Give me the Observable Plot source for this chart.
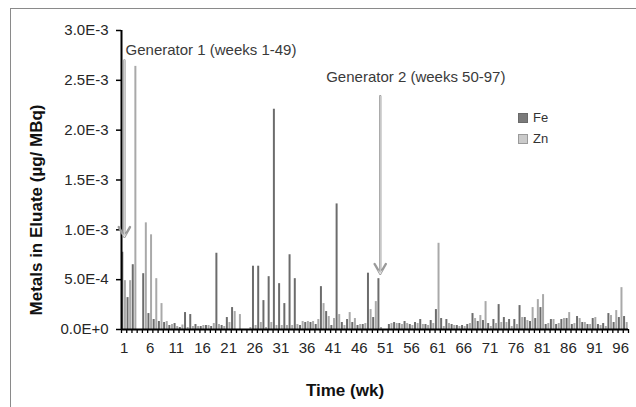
<!DOCTYPE html>
<html><head><meta charset="utf-8">
<script src="https://cdn.jsdelivr.net/npm/d3@7"></script>
<script src="https://cdn.jsdelivr.net/npm/@observablehq/plot@0.6"></script>
<style>
body{margin:0;background:#fff;overflow:hidden;font-family:"Liberation Sans",Arial,sans-serif;}
#wrap{position:relative;width:636px;height:407px;overflow:hidden;}
#frame{position:absolute;left:10px;top:8px;width:700px;height:500px;border:1px solid #8a8a8a;}
#chart{position:absolute;left:0;top:0;}
#legend{position:absolute;left:518px;top:107px;font-size:13px;color:#333;line-height:21px;}
.sw{display:inline-block;width:8px;height:8px;margin-right:5px;border:1px solid;vertical-align:-1px;}
</style></head><body>
<div id="wrap"><div id="frame"></div><div id="chart"></div><div id="legend"></div></div>
<script>
// weeks 1..97
const weeks = d3.range(1, 98);
// Values in units of 1E-4 µg/MBq (null = no measurement)
const feE4 = [7.75,3.2,6.5,null,5.6,1.6,1.0,0.8,0.7,0.4,
  0.6,0.2,1.7,1.5,0.5,0.3,0.4,0.3,7.65,0.4,
  1.2,2.2,0,null,0,6.35,6.35,2.9,5.3,22.1,
  4.6,2.6,7.5,5.1,0.4,0.7,0.7,0.5,4.3,1.8,
  0.4,12.6,0.7,1.0,0.7,0.4,0.5,5.65,1.2,5.1,
  null,0.5,0.7,0.6,0.8,0.5,0.7,1.0,0.5,0.9,
  2.0,1.1,1.0,0.5,0.4,0.4,0.5,1.6,0.8,0.9,
  0.6,1.0,2.5,1.2,1.0,1.0,2.4,1.2,0.8,1.1,
  2.2,0.5,1.0,0.5,1.0,1.1,0.5,1.3,0.7,0.5,
  1.1,0.5,0.6,1.6,0.7,1.2,1.3];
const znE4 = [4.9,4.9,26.4,null,10.7,9.5,5.1,2.6,0.8,0.5,
  0.3,0.45,0.2,0.3,0.3,0.4,0.4,0.6,0.5,0.3,
  0.7,1.8,1.5,null,0.2,0.4,0.7,0.2,0.7,0.4,
  0.4,0.4,0.4,0.5,0.8,0.8,0.8,1.0,2.6,1.3,
  1.1,1.5,0.4,1.7,1.1,0.5,0.6,2.0,2.8,0.2,
  null,0.6,0.6,0.5,0.6,0.4,0.6,0.5,0.4,0.6,
  8.65,0.3,0.6,0.4,0.3,0.3,0.6,1.1,1.4,2.8,
  0.3,0.6,0.7,0.7,0.3,0.5,1.2,0.9,2.2,3.0,
  3.5,0.6,1.0,0.6,1.1,1.7,0.6,1.1,0.7,0.5,
  1.2,0.4,0.3,1.4,1.9,4.2,0.7];
const series = ["Fe", "Zn"];
const seriesColors = ["#6c6c6c", "#a9a9a9"];
const legendSwatch = ["#7a7a7a", "#cacaca"];
const yTicks = [0, 0.0005, 0.001, 0.0015, 0.002, 0.0025, 0.003];
const xTickLabels = [1,6,11,16,21,26,31,36,41,46,51,56,61,66,71,76,81,86,91,96];
const noteLabels = ["Generator 1 (weeks 1-49)", "Generator 2 (weeks 50-97)"];
const noteWeeks = [1.27, 73.96];
const noteValues = [0.00280, 0.00253];
const arrowWeeks = [1.05, 50];
const arrowFrom = [0.00270, 0.00234];
const arrowTo = [0.00093, 0.00056];

const bars = weeks.flatMap((w, i) => [
  {week: w, metal: "Fe", v: feE4[i] == null ? null : feE4[i] * 1e-4},
  {week: w, metal: "Zn", v: znE4[i] == null ? null : znE4[i] * 1e-4}
]).filter(d => d.v != null);
const notes = noteLabels.map((t, i) => ({t, week: noteWeeks[i], v: noteValues[i]}));
const arrows = arrowWeeks.map((w, i) => ({week: w, from: arrowFrom[i], to: arrowTo[i]}));
const boundaries = d3.range(0.5, 98, 1);

const font = "Liberation Sans, Arial, sans-serif";
const chart = Plot.plot({
  width: 636, height: 407,
  marginLeft: 121, marginRight: 8, marginTop: 30, marginBottom: 78,
  x: {type: "linear", domain: [0.5, 97.5]},
  y: {domain: [0, 0.003]},
  color: {domain: series, range: seriesColors},
  style: {fontFamily: font, fontSize: "15px", color: "#262626", background: "transparent", overflow: "visible"},
  marks: [
    Plot.rect(bars, {
      x1: d => d.week + (d.metal === "Fe" ? -0.44 : 0.06),
      x2: d => d.week + (d.metal === "Fe" ? -0.06 : 0.44),
      y1: () => 0, y2: "v", fill: "metal"
    }),
    Plot.axisY({ticks: yTicks, tickFormat: d => d3.format(".1e")(d).toUpperCase(), tickSize: 5, tickPadding: 8,
      label: null, stroke: "#000", strokeWidth: 1.5, fontSize: 15, fill: "#262626"}),
    Plot.axisX({ticks: boundaries, tickSize: 4, tickFormat: () => "", label: null, stroke: "#000", strokeWidth: 1.3}),
    Plot.axisX({ticks: xTickLabels, tickSize: 0, tickPadding: 13, tickFormat: d => String(d), label: null, fontSize: 15, fill: "#262626"}),
    Plot.ruleY([0], {stroke: "#000", strokeWidth: 2}),
    Plot.ruleX([0.5], {stroke: "#000", strokeWidth: 2}),
    Plot.arrow(arrows, {x1: "week", x2: "week", y1: "from", y2: "to", stroke: "#9a9a9a", strokeWidth: 2.4, headLength: 7, headAngle: 60, inset: 0}),
    Plot.arrow(arrows, {x1: "week", x2: "week", y1: "from", y2: "to", stroke: "#f2f2f2", strokeWidth: 0.7, headLength: 7, headAngle: 60, inset: 0}),
    Plot.text(notes.slice(0, 1), {x: "week", y: "v", text: "t", textAnchor: "start", fontSize: 15, fill: "#3a3a3a"}),
    Plot.text(notes.slice(1), {x: "week", y: "v", text: "t", textAnchor: "end", fontSize: 15, fill: "#3a3a3a"}),
    Plot.text(["Metals in Eluate (µg/ MBq)"], {frameAnchor: "left", textAnchor: "middle", lineAnchor: "middle", dx: -85, dy: 30, rotate: -90, fontSize: 17, fontWeight: "bold", fill: "#111"}),
    Plot.text(["Time (wk)"], {frameAnchor: "bottom", textAnchor: "middle", lineAnchor: "middle", dx: -30, dy: 61, fontSize: 17, fontWeight: "bold", fill: "#111"})
  ]
});
document.getElementById("chart").appendChild(chart);

const legend = document.getElementById("legend");
series.forEach((s, i) => {
  const row = document.createElement("div");
  row.innerHTML = `<span class="sw" style="background:${legendSwatch[i]};border-color:${i === 0 ? "#6a6a6a" : "#9a9a9a"}"></span>${s}`;
  legend.appendChild(row);
});
</script>
</body></html>
